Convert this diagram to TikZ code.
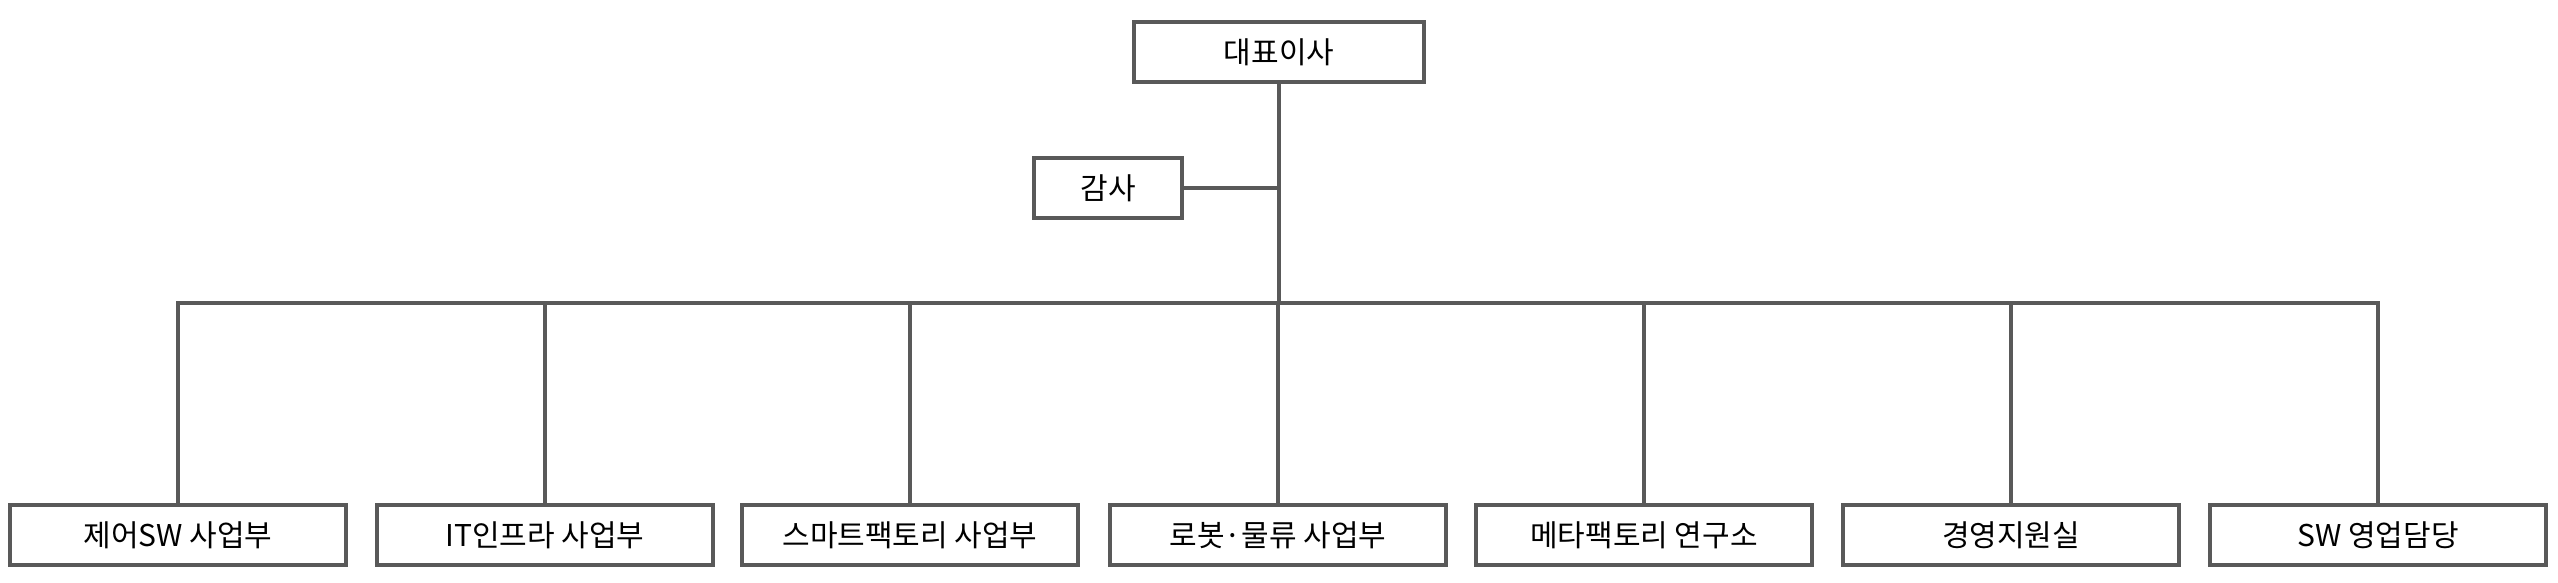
\documentclass[tikz,border=0pt]{standalone}
\usepackage{fontspec}
\setmainfont{Noto Sans CJK KR}
\definecolor{ln}{HTML}{595959}
\begin{document}
\begin{tikzpicture}[x=1pt,y=-1pt,
  box/.style={draw=ln,line width=4pt,minimum height=60pt,inner sep=0pt,font=\fontsize{30}{36}\selectfont},
  wire/.style={draw=ln,line width=4pt}]
\useasboundingbox (0,0) rectangle (2558,583);
\node[box,minimum width=290pt] (ceo) at (1279,52) {대표이사};
\node[box,minimum width=148pt] (audit) at (1108,188) {감사};
\coordinate (j) at (1279,303);
\foreach \i/\x/\t in {1/178/제어SW 사업부,2/545/IT인프라 사업부,3/910/스마트팩토리 사업부,4/1278/로봇·물류 사업부,5/1644/메타팩토리 연구소,6/2011/경영지원실,7/2378/SW 영업담당}{
  \node[box,minimum width=336pt] (d\i) at (\x,535) {\t};
}
\draw[wire] (ceo.south) -- (j);
\draw[wire] (audit.east) -- (audit.east -| ceo.south);
\draw[wire] (d1.north) |- (j) -| (d7.north);
\foreach \i in {2,...,6}{\draw[wire] (d\i.north) -- (d\i.north |- j);}
\end{tikzpicture}
\end{document}
